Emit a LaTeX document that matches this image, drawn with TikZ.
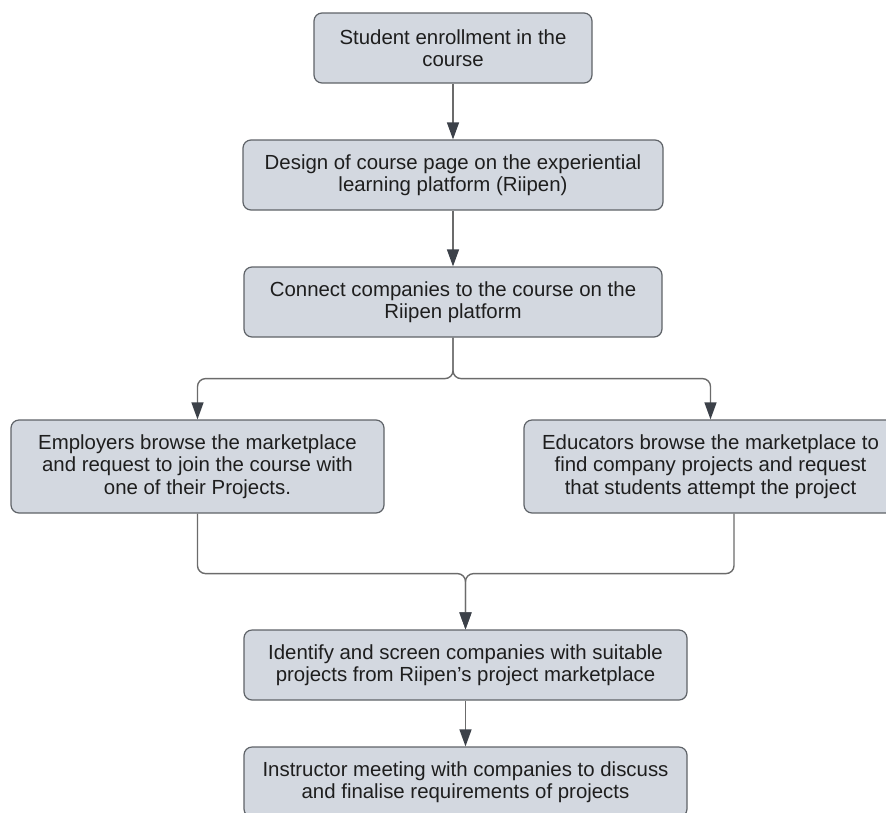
\documentclass[tikz,border=0pt]{standalone}
\usepackage{fontspec}
\setmainfont{Liberation Sans}
\usetikzlibrary{arrows.meta}
\definecolor{boxfill}{HTML}{D3D8E0}
\definecolor{boxdraw}{HTML}{5F6368}
\definecolor{linec}{HTML}{6B6B6B}
\definecolor{tipc}{HTML}{3C4149}
\definecolor{txt}{HTML}{1E1E1E}
\begin{document}
\begin{tikzpicture}[x=1pt,y=-1pt,
 box/.style={draw=boxdraw, fill=boxfill, rounded corners=8pt, line width=1.2pt, align=center, inner sep=0pt, font=\fontsize{20.4}{22.5}\selectfont, text=txt},
 conn/.style={draw=linec, line width=1.4pt, -{Triangle[length=17pt,width=12pt,color=tipc]}},
 wire/.style={draw=linec, line width=1.4pt}]
\useasboundingbox (0,0) rectangle (886,812);
\clip (0,0) rectangle (886,812);
\node[box, minimum width=278pt, minimum height=70pt] (b1) at (453,48) {Student enrollment in the\\course};
\node[box, minimum width=420pt, minimum height=70pt] (b2) at (453,175) {Design of course page on the experiential\\learning platform (Riipen)};
\node[box, minimum width=418pt, minimum height=70pt] (b3) at (453,302) {Connect companies to the course on the\\Riipen platform};
\node[box, minimum width=373pt, minimum height=93pt] (b4) at (197.5,466.5) {Employers browse the marketplace\\and request to join the course with\\one of their Projects.};
\node[box, minimum width=373pt, minimum height=93pt] (b5) at (710.5,466.5) {Educators browse the marketplace to\\find company projects and request\\that students attempt the project};
\node[box, minimum width=443pt, minimum height=70pt] (b6) at (465.5,665) {Identify and screen companies with suitable\\projects from Riipen's project marketplace};
\node[box, minimum width=443pt, minimum height=70pt] (b7) at (465.5,782) {Instructor meeting with companies to discuss\\and finalise requirements of projects};
\draw[conn] (b1.south) -- (b2.north);
\draw[conn] (b2.south) -- (b3.north);
\draw[conn, rounded corners=8pt] (b3.south) -- ++(0,41) -| (b4.north);
\draw[conn, rounded corners=8pt] (b3.south) -- ++(0,41) -| (b5.north);
\draw[conn, rounded corners=8pt] (b4.south) -- ++(0,60) -| (b6.north);
\draw[conn, rounded corners=8pt] ([xshift=23.5pt]b5.south) -- ++(0,60) -| (b6.north);
\draw[conn] (b6.south) -- (b7.north);
\end{tikzpicture}
\end{document}
